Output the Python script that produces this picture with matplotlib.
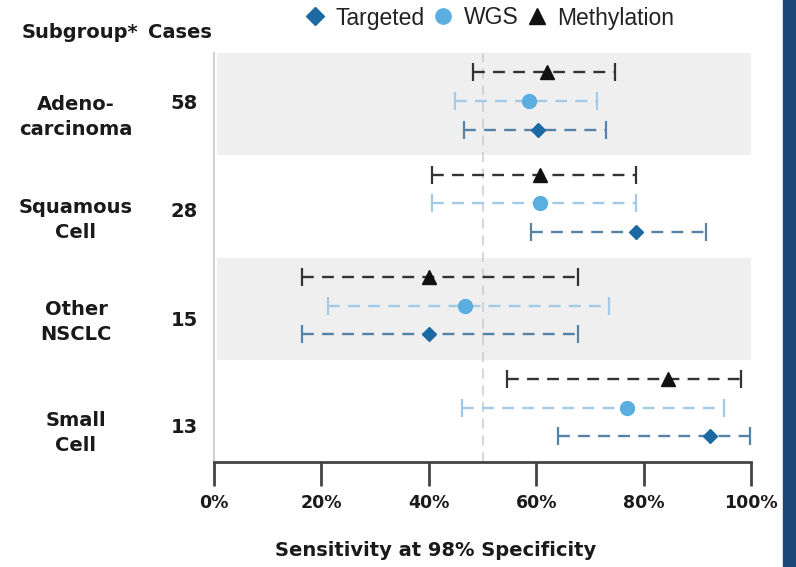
import matplotlib
matplotlib.use("Agg")
import matplotlib.pyplot as plt
from matplotlib.lines import Line2D
from matplotlib.patches import Rectangle
import matplotlib.transforms as mtransforms

# ---- data ----
categories = ["Adeno-\ncarcinoma", "Squamous\nCell", "Other\nNSCLC", "Small\nCell"]
cases = [58, 28, 15, 13]

targeted = [60.3, 78.6, 40.0, 92.3]
targeted_lo = [46.5, 59.1, 16.3, 64.0]
targeted_hi = [73.0, 91.7, 67.7, 99.8]

wgs = [58.6, 60.7, 46.7, 76.9]
wgs_lo = [44.8, 40.6, 21.3, 46.2]
wgs_hi = [71.4, 78.6, 73.5, 95.0]

meth = [62.1, 60.7, 40.0, 84.6]
meth_lo = [48.2, 40.6, 16.3, 54.6]
meth_hi = [74.6, 78.6, 67.7, 98.1]

xticks = [0, 20, 40, 60, 80, 100]
xticklabels = ["0%", "20%", "40%", "60%", "80%", "100%"]
threshold = 50

# ---- figure ----
W, H = 796, 567
fig = plt.figure(figsize=(W / 100, H / 100), dpi=100)
fig.patch.set_facecolor("white")

def fx(px):
    return px / W

def fy(py):
    return 1 - py / H

TXT = "#1a1a1a"

ax = fig.add_axes([fx(214), fy(462), fx(751) - fx(214), fy(53) - fy(462)])
ax.set_xlim(0, 100)
ax.set_ylim(len(categories), 0)
ax.set_facecolor("white")

# bands
for i in range(len(categories)):
    if i % 2 == 0:
        ax.axhspan(i, i + 1, xmin=0.005, xmax=1, color="#efefef", lw=0, zorder=0)

# threshold line
ax.axvline(threshold, color="#ccccdd", lw=1.2, ls=(0, (6, 4)), zorder=1)

series = [
    (meth, meth_lo, meth_hi, 0.19, "^", "#111111", "#333333", 10, "Methylation"),
    (wgs, wgs_lo, wgs_hi, 0.47, "o", "#5aafe0", "#a3cbe8", 10, "WGS"),
    (targeted, targeted_lo, targeted_hi, 0.75, "D", "#1c6aa3", "#5582a6", 7.5, "Targeted"),
]

for vals, lo, hi, off, mk, mcol, lcol, ms, name in series:
    ys = [i + off for i in range(len(vals))]
    xerr = [[v - l for v, l in zip(vals, lo)], [h - v for v, h in zip(vals, hi)]]
    dl, caps, bars = ax.errorbar(vals, ys, xerr=xerr, fmt=mk, color=mcol, ms=ms,
                                 ecolor=lcol, elinewidth=1.7, capsize=6.5, capthick=1.6,
                                 zorder=3)
    for b in bars:
        b.set_linestyle((0, (5, 3.5)))
    for c in caps:
        c.set_clip_on(False)
    dl.set_zorder(4)

# spines
for s in ["top", "right"]:
    ax.spines[s].set_visible(False)
ax.spines["left"].set_color("#d0d0d0")
ax.spines["left"].set_linewidth(1.5)
ax.spines["bottom"].set_color("#444444")
ax.spines["bottom"].set_linewidth(2)
ax.set_yticks([])
ax.set_xticks(xticks)
ax.set_xticklabels(xticklabels, fontsize=12.5, fontweight="bold", color=TXT)
ax.tick_params(axis="x", direction="out", length=17, width=2, color="#444444", pad=6)

# left labels
trans = mtransforms.blended_transform_factory(fig.transFigure, ax.transData)
label_offsets = [0.63, 0.63, 0.63, 0.72]
case_offsets = [0.49, 0.55, 0.62, 0.66]
for i, (cat, n) in enumerate(zip(categories, cases)):
    fig.text(fx(76), i + label_offsets[i], cat, transform=trans, ha="center", va="center",
             fontsize=14, fontweight="bold", color=TXT, linespacing=1.4)
    fig.text(fx(184), i + case_offsets[i], str(n), transform=trans, ha="center", va="center",
             fontsize=14, fontweight="bold", color=TXT)

fig.text(fx(80), fy(33), "Subgroup*", ha="center", va="center", fontsize=14,
         fontweight="bold", color=TXT)
fig.text(fx(180), fy(33), "Cases", ha="center", va="center", fontsize=14,
         fontweight="bold", color=TXT)

fig.text(fx(436), fy(550), "Sensitivity at 98% Specificity", ha="center", va="center",
         fontsize=14, fontweight="bold", color=TXT)

# legend
handles = [
    Line2D([], [], ls="none", marker="D", color="#1c6aa3", ms=9, label="Targeted"),
    Line2D([], [], ls="none", marker="o", color="#5aafe0", ms=11, label="WGS"),
    Line2D([], [], ls="none", marker="^", color="#111111", ms=11, label="Methylation"),
]
fig.legend(handles=handles, loc="center", bbox_to_anchor=(fx(489), fy(18)), ncol=3,
           frameon=False, handletextpad=0.4, columnspacing=0.3, handlelength=1.0,
           borderpad=0, borderaxespad=0,
           prop={"family": "Liberation Sans", "size": 16.5}, labelcolor="#222222")

# right side bar
fig.patches.append(Rectangle((fx(783), 0), 1 - fx(783), 1, transform=fig.transFigure,
                             color="#1b4778", zorder=10))

fig.savefig("out.png", dpi=100)
